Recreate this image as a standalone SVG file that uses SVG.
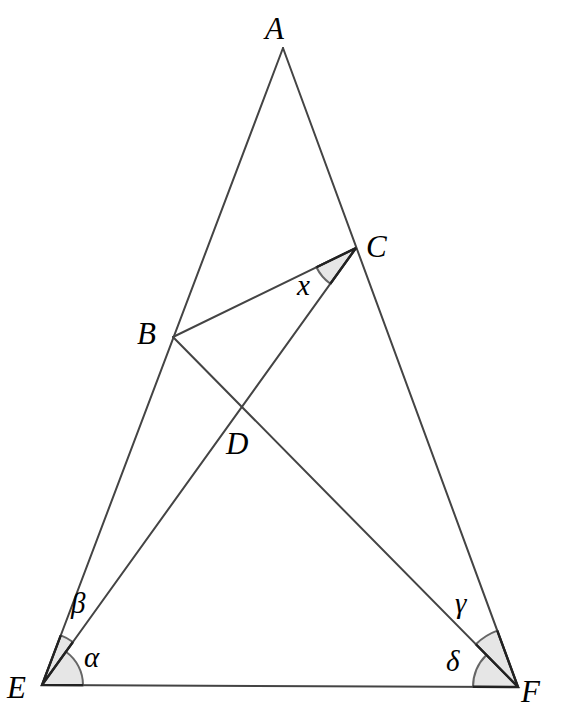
<svg xmlns="http://www.w3.org/2000/svg" width="564" height="712" viewBox="0 0 564 712">
<style>
.ln{stroke:#444;stroke-width:2;fill:none;stroke-linecap:round}
.ang{fill:#e6e6e6;stroke:#666;stroke-width:2}
.rad{stroke:#222;stroke-width:2.4;fill:none}
</style>
<rect width="564" height="712" fill="#fff"/>
<g id="angles">
<path class="ang" d="M42,685 L72.93,641.96 A53,53 0 0 0 60.75,635.43 Z"/>
<path class="ang" d="M42,685 L83,685.17 A41,41 0 0 0 65.92,651.7 Z"/>
<path class="ang" d="M518,687 L475.88,644.27 A60,60 0 0 1 497.29,630.68 Z"/>
<path class="ang" d="M518,687 L473,686.81 A45,45 0 0 1 486.41,654.95 Z"/>
<path class="ang" d="M356,248 L316.43,267.24 A44,44 0 0 0 330.33,283.73 Z"/>
</g>
<g id="connectors">
<line class="ln" x1="283" y1="48" x2="42" y2="685"/>
<line class="ln" x1="283" y1="48" x2="518" y2="687"/>
<line class="ln" x1="42" y1="685" x2="518" y2="687"/>
<line class="ln" x1="42" y1="685" x2="356" y2="248"/>
<line class="ln" x1="173" y1="337" x2="518" y2="687"/>
<line class="ln" x1="173" y1="337" x2="356" y2="248"/>
</g>
<g id="radii">
<path class="rad" d="M83,685.17 L42,685 L60.75,635.43 M72.93,641.96 L42,685"/>
<path class="rad" d="M473,686.81 L518,687 L497.29,630.68 M475.88,644.27 L518,687"/>
<path class="rad" d="M316.43,267.24 L356,248 L330.33,283.73"/>
</g>
<g font-family="Liberation Serif, serif" font-style="italic" font-size="31" fill="#000">
<g id="A"><text x="265" y="39">A</text></g>
<g id="B"><text x="137" y="344">B</text></g>
<g id="C"><text x="366" y="257">C</text></g>
<g id="D"><text x="226" y="454">D</text></g>
<g id="E"><text x="7" y="698">E</text></g>
<g id="F"><text x="521" y="702">F</text></g>
</g>
<g id="labels" font-family="Liberation Serif, serif" font-style="italic" font-size="29" fill="#000">
<text x="297" y="295">x</text>
<text x="84" y="667">α</text>
<text x="71" y="613">β</text>
<text x="455" y="613">γ</text>
<text x="446" y="671">δ</text>
</g>
</svg>
